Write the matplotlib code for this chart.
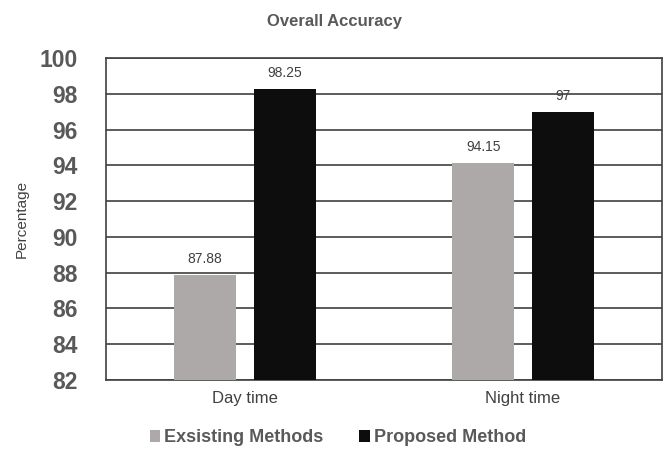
import matplotlib
matplotlib.use("Agg")
import matplotlib.pyplot as plt
import numpy as np

categories = ["Day time", "Night time"]
series_names = ["Exsisting Methods", "Proposed Method"]
existing = [87.88, 94.15]
proposed = [98.25, 97]
value_labels_existing = ["87.88", "94.15"]
value_labels_proposed = ["98.25", "97"]
yticks = [82, 84, 86, 88, 90, 92, 94, 96, 98, 100]

plt.rcParams['font.family'] = ['Liberation Sans', 'DejaVu Sans']

fig = plt.figure(figsize=(6.69, 4.5), dpi=100)
ax = fig.add_axes([0.158, 0.1556, 0.8315, 0.7155])

x = np.arange(len(categories))
w = 0.223
off = 0.143
c_gray = "#ADA9A8"
c_black = "#0D0D0D"
b1 = ax.bar(x - off, existing, w, color=c_gray, label=series_names[0], zorder=3)
b2 = ax.bar(x + off, proposed, w, color=c_black, label=series_names[1], zorder=3)

for xi, v, t in zip(x, existing, value_labels_existing):
    ax.text(xi - off, v + 0.5, t, ha="center", va="bottom", fontsize=10, color="#404040")
for xi, v, t in zip(x, proposed, value_labels_proposed):
    ax.text(xi + off, v + 0.5, t, ha="center", va="bottom", fontsize=10, color="#404040")

ax.set_ylim(82, 100)
ax.set_xlim(-0.5, 1.5)
ax.set_yticks(yticks)
ax.set_yticklabels([str(t) for t in yticks], fontsize=16.5, fontweight="bold", color="#595959")
ax.set_xticks(x)
ax.set_xticklabels(categories, fontsize=12, color="#404040")
ax.tick_params(axis="both", length=0)
ax.tick_params(axis="y", pad=20)
ax.tick_params(axis="x", pad=8)
ax.yaxis.grid(True, color="#404040", linewidth=1.2, zorder=0)
for s in ax.spines.values():
    s.set_color("#404040")
    s.set_linewidth(1.2)

ax.set_ylabel("Percentage", fontsize=11, color="#404040", labelpad=8)
fig.text(0.5, 0.953, "Overall Accuracy", ha="center", va="center",
         fontsize=12, fontweight="bold", color="#595959")

leg = fig.legend(handles=[b1, b2], labels=series_names, loc="center",
                 bbox_to_anchor=(0.505, 0.027), ncol=2, frameon=False,
                 prop={"size": 13, "weight": "bold"}, handlelength=0.6,
                 handleheight=0.6, handletextpad=0.2, columnspacing=2.0)
for t in leg.get_texts():
    t.set_color("#595959")

fig.savefig("out.png", dpi=100)
